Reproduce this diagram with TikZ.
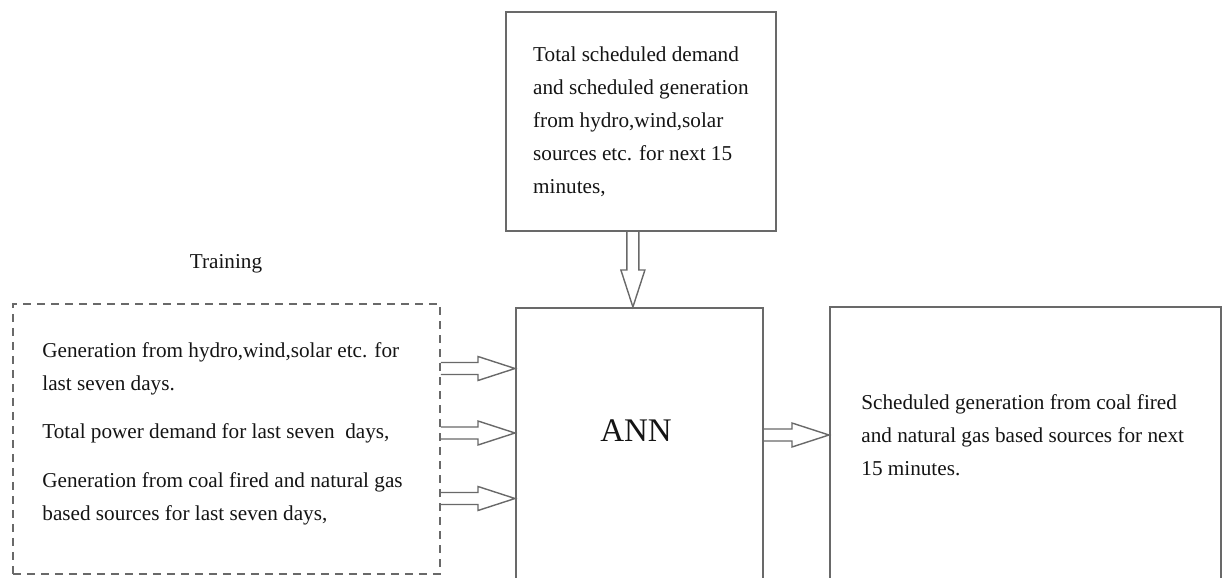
\documentclass[tikz,border=0pt]{standalone}
\usepackage{fontspec}
\setmainfont{Liberation Serif}
\usepackage{tikz}
\usetikzlibrary{calc,positioning}

\definecolor{linegray}{RGB}{105,105,105}
\definecolor{txtgray}{RGB}{20,20,20}
\tikzset{
  box/.style={draw=linegray,line width=0.9pt,anchor=north west,inner sep=0pt},
  txt/.style={text=txtgray,font=\fontsize{10.6}{16.5}\selectfont,align=left,inner sep=0pt},
  fat/.style={draw=linegray,line width=0.7pt,to path={
    ($(\tikztostart)!3pt!90:(\tikztotarget)$)
    -- ($(\tikztotarget)!18.5pt!(\tikztostart)!3pt!90:(\tikztotarget)$)
    -- ($(\tikztotarget)!18.5pt!(\tikztostart)!6pt!90:(\tikztotarget)$)
    -- (\tikztotarget)
    -- ($(\tikztotarget)!18.5pt!(\tikztostart)!6pt!-90:(\tikztotarget)$)
    -- ($(\tikztotarget)!18.5pt!(\tikztostart)!3pt!-90:(\tikztotarget)$)
    -- ($(\tikztostart)!3pt!-90:(\tikztotarget)$)}}
}

\begin{document}
\begin{tikzpicture}[x=0.5pt,y=-0.5pt]
\useasboundingbox (0,0) rectangle (1222,578);
\clip (0,0) rectangle (1222,578);
% boxes
\node[box,txt,draw=linegray,minimum width=135pt,minimum height=109.5pt] (sched) at (505,11)
  {Total scheduled demand\\and scheduled generation\\from hydro,wind,solar\\sources etc. for next 15\\minutes,};
\node[box,dashed,dash pattern=on 4pt off 3pt,minimum width=213.5pt,minimum height=135pt] (train) at (12,303) {};
\node[box,minimum width=123.5pt,minimum height=150pt] (ann) at (515,307) {};
\node[box,minimum width=195.5pt,minimum height=150pt] (out) at (829,306) {};
% texts
\node[txt] (trainlbl) at (226,264) {Training};
\node[txt,anchor=west] (g1) at (42,368.5) {Generation from hydro,wind,solar etc. for\\last seven days.};
\node[txt,anchor=west] (g2) at (42,433) {Total power demand for last seven\ \ days,};
\node[txt,anchor=west] (g3) at (42,498.5) {Generation from coal fired and natural gas\\based sources for last seven days,};
\node[text=txtgray,font=\fontsize{16.5}{16.5}\selectfont,inner sep=0pt] (annlbl) at (636,431) {ANN};
\node[txt,anchor=west] (outtxt) at (861,435) {Scheduled generation from coal fired\\and natural gas based sources for next\\15 minutes.};
% arrows
\draw[fat] ([xshift=-4pt]sched.south) to ([xshift=-4pt]sched.south |- ann.north);
\draw[fat] (train.east |- g1) to (ann.west |- g1);
\draw[fat] (train.east |- g2) to (ann.west |- g2);
\draw[fat] (train.east |- g3) to (ann.west |- g3);
\draw[fat] (ann.east |- outtxt) to (out.west |- outtxt);
\end{tikzpicture}
\end{document}
